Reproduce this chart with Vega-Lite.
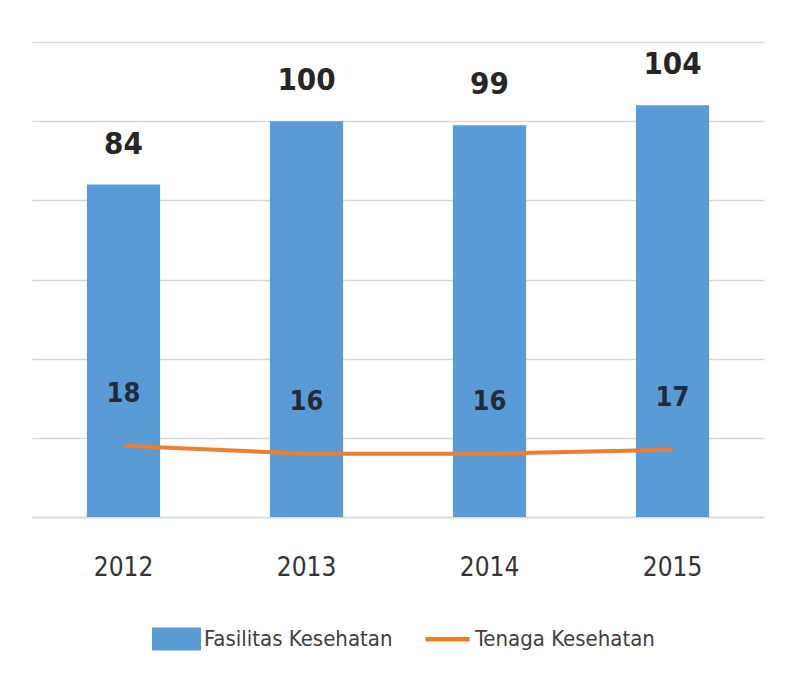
{
  "$schema": "https://vega.github.io/schema/vega-lite/v6.json",
  "width": 732,
  "height": 475,
  "padding": {"left": 32, "top": 42, "right": 22, "bottom": 10},
  "background": "white",
  "data": {
    "values": [
      {"year": "2012", "fasilitas": 84, "tenaga": 18},
      {"year": "2013", "fasilitas": 100, "tenaga": 16},
      {"year": "2014", "fasilitas": 99, "tenaga": 16},
      {"year": "2015", "fasilitas": 104, "tenaga": 17}
    ]
  },
  "encoding": {
    "x": {
      "field": "year",
      "type": "nominal",
      "scale": {"paddingInner": 0.6, "paddingOuter": 0.3},
      "axis": {
        "title": null,
        "labelAngle": 0,
        "labelFont": "DejaVu Sans Condensed",
        "labelFontSize": 26,
        "labelColor": "#333333",
        "labelPadding": 37,
        "ticks": false,
        "domainColor": "#d9d9d9",
        "domainWidth": 1.5
      }
    }
  },
  "layer": [
    {
      "mark": {"type": "bar", "color": "#5b9bd5"},
      "encoding": {
        "y": {
          "field": "fasilitas",
          "type": "quantitative",
          "scale": {"domain": [0, 120], "nice": false},
          "axis": {
            "title": null,
            "labels": false,
            "ticks": false,
            "domain": false,
            "values": [0, 20, 40, 60, 80, 100, 120],
            "gridColor": "#d9d9d9",
            "gridWidth": 1.5
          }
        },
        "color": {
          "datum": "Fasilitas Kesehatan",
          "legend": {
            "encode": {
              "symbols": {
                "update": {
                  "shape": [
                    {"test": "datum.value === 'Tenaga Kesehatan'", "value": "M-0.9,-0.09H0.9V0.09H-0.9Z"},
                    {"value": "M-1,-0.47H1V0.47H-1Z"}
                  ]
                }
              }
            }
          }
        }
      }
    },
    {
      "mark": {
        "type": "text",
        "baseline": "bottom",
        "dy": -24,
        "font": "DejaVu Sans Condensed",
        "fontSize": 31,
        "fontWeight": "bold",
        "color": "#262626"
      },
      "encoding": {
        "y": {"field": "fasilitas", "type": "quantitative"},
        "text": {"field": "fasilitas", "type": "quantitative"}
      }
    },
    {
      "mark": {"type": "line", "strokeWidth": 4},
      "encoding": {
        "y": {"field": "tenaga", "type": "quantitative"},
        "color": {"datum": "Tenaga Kesehatan"}
      }
    },
    {
      "mark": {
        "type": "text",
        "baseline": "bottom",
        "dy": -38,
        "font": "DejaVu Sans Condensed",
        "fontSize": 27,
        "fontWeight": "bold",
        "color": "#1f2a3c"
      },
      "encoding": {
        "y": {"field": "tenaga", "type": "quantitative"},
        "text": {"field": "tenaga", "type": "quantitative"}
      }
    }
  ],
  "resolve": {"scale": {"y": "shared"}},
  "config": {
    "view": {"stroke": null},
    "range": {"category": ["#5b9bd5", "#ed7d31"]},
    "legend": {
      "orient": "none",
      "legendX": 120,
      "legendY": 572,
      "direction": "horizontal",
      "title": null,
      "labelFont": "DejaVu Sans Condensed",
      "labelFontSize": 22,
      "labelColor": "#404040",
      "labelLimit": 400,
      "labelOffset": 3,
      "columnPadding": 30,
      "symbolSize": 2400,
      "symbolStrokeWidth": 0,
      "symbolType": "M-1,-0.47H1V0.47H-1Z"
    }
  }
}
